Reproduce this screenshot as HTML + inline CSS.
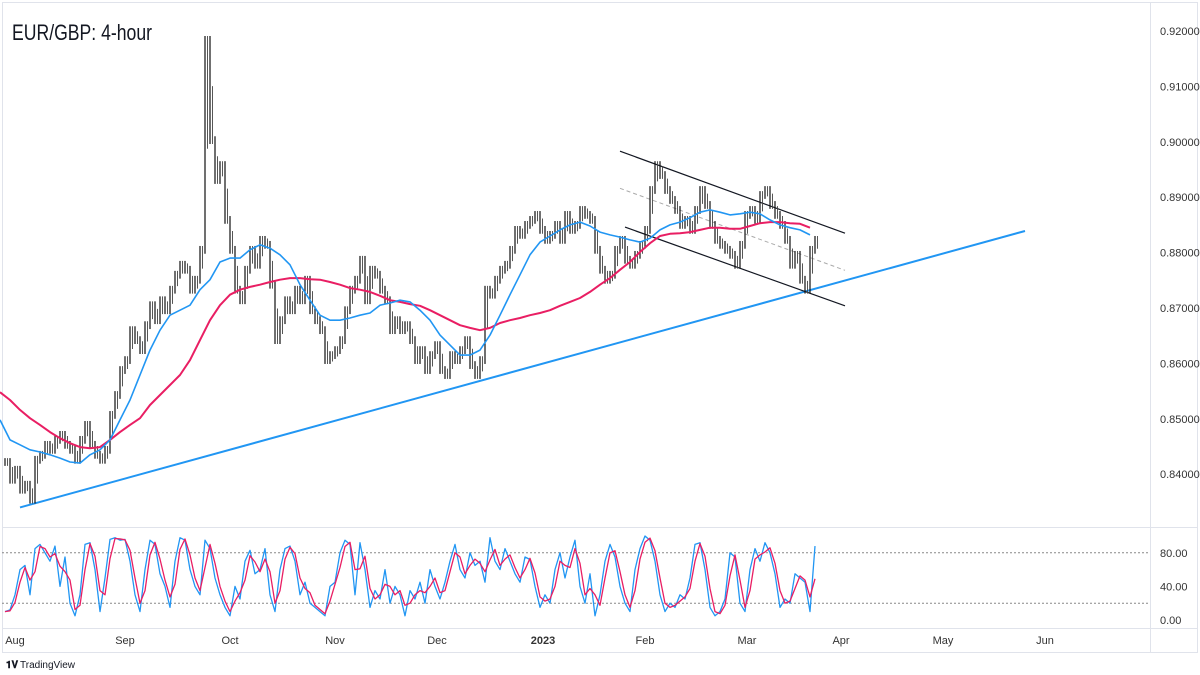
<!DOCTYPE html>
<html><head><meta charset="utf-8"><style>
html,body{margin:0;padding:0;background:#fff;}
svg{display:block;font-family:"Liberation Sans",sans-serif;}
</style></head><body>
<svg id="chart" width="1200" height="675" viewBox="0 0 1200 675" xmlns="http://www.w3.org/2000/svg">
<rect x="0" y="0" width="1200" height="675" fill="#fff"/>
<rect x="2.5" y="2.5" width="1195" height="650" fill="none" stroke="#e0e3eb"/>
<line x1="1150.5" y1="2" x2="1150.5" y2="652" stroke="#e0e3eb"/>
<line x1="2" y1="527.5" x2="1198" y2="527.5" stroke="#e0e3eb"/>
<line x1="2" y1="628.5" x2="1198" y2="628.5" stroke="#e0e3eb"/>
<text x="12" y="40" font-size="22" fill="#131722" textLength="140" lengthAdjust="spacingAndGlyphs">EUR/GBP: 4-hour</text>
<g id="priceTicks"></g>
<g id="oscTicks"></g>
<g id="timeTicks"></g>
<g id="drawings"></g>
<g id="candles"></g>
<g id="mas"></g>
<g id="osc"></g>
<text x="6" y="668" font-size="10" fill="#131722" font-weight="bold">𝟏𝐕</text>
<text x="20" y="668" font-size="10" fill="#131722">TradingView</text>
</svg>
<script>
const closes=[0.8422,0.8390,0.8408,0.8372,0.8381,0.8354,0.8426,0.8435,0.8453,0.8444,
0.8462,0.8471,0.8453,0.8444,0.8426,0.8462,0.8489,0.8453,0.8435,0.8426,
0.8444,0.8507,0.8543,0.8588,0.8606,0.8660,0.8642,0.8624,0.8669,0.8705,
0.8678,0.8714,0.8696,0.8733,0.8760,0.8778,0.8769,0.8733,0.8751,0.8805,
0.9184,
0.9003,0.8931,0.8958,0.8859,0.8805,0.8733,0.8714,0.8769,0.8805,0.8778,
0.8823,0.8814,0.8742,0.8642,0.8678,0.8714,0.8696,0.8733,0.8714,0.8751,
0.8696,0.8678,0.8660,0.8606,0.8615,0.8624,0.8642,0.8696,0.8733,0.8751,
0.8787,0.8714,0.8769,0.8760,0.8733,0.8714,0.8660,0.8678,0.8660,0.8669,
0.8642,0.8606,0.8624,0.8588,0.8615,0.8633,0.8588,0.8579,0.8615,0.8606,
0.8624,0.8642,0.8597,0.8579,0.8606,0.8733,0.8724,0.8751,0.8769,0.8778,
0.8805,0.8841,0.8832,0.8850,0.8859,0.8868,0.8841,0.8823,0.8832,0.8850,
0.8823,0.8868,0.8841,0.8850,0.8877,0.8868,0.8859,0.8805,0.8769,0.8751,
0.8760,0.8805,0.8823,0.8787,0.8778,0.8796,0.8814,0.8841,0.8913,0.8958,
0.8940,0.8913,0.8895,0.8877,0.8850,0.8859,0.8841,0.8877,0.8913,0.8886,
0.8850,0.8823,0.8814,0.8805,0.8796,0.8778,0.8814,0.8868,0.8877,0.8859,
0.8904,0.8913,0.8886,0.8868,0.8850,0.8823,0.8778,0.8796,0.8751,0.8733,
0.8805,0.8823];
const maFast=[0.8498,0.8462,0.8453,0.8444,0.8440,0.8435,0.8429,0.8422,0.8420,0.8435,0.8444,0.8462,0.8498,0.8534,0.8579,0.8624,0.8660,0.8687,0.8696,0.8705,0.8733,0.8751,0.8783,0.8790,0.8790,0.8805,0.8814,0.8808,0.8796,0.8778,0.8742,0.8714,0.8687,0.8678,0.8678,0.8682,0.8687,0.8691,0.8705,0.8709,0.8714,0.8711,0.8696,0.8678,0.8651,0.8633,0.8615,0.8615,0.8624,0.8651,0.8687,0.8724,0.8760,0.8796,0.8819,0.8830,0.8841,0.8850,0.8855,0.8848,0.8837,0.8832,0.8828,0.8823,0.8819,0.8826,0.8841,0.8850,0.8855,0.8863,0.8873,0.8877,0.8873,0.8868,0.8870,0.8873,0.8870,0.8859,0.8850,0.8845,0.8841,0.8832];
const maSlow=[0.8548,0.8534,0.8516,0.8501,0.8489,0.8476,0.8465,0.8456,0.8449,0.8447,0.8449,0.8462,0.8476,0.8489,0.8501,0.8525,0.8543,0.8561,0.8579,0.8606,0.8642,0.8678,0.8705,0.8724,0.8733,0.8738,0.8742,0.8747,0.8751,0.8754,0.8754,0.8752,0.8751,0.8747,0.8742,0.8736,0.8733,0.8729,0.8722,0.8714,0.8711,0.8707,0.8704,0.8696,0.8687,0.8678,0.8669,0.8664,0.8660,0.8664,0.8673,0.8678,0.8682,0.8687,0.8691,0.8696,0.8704,0.8711,0.8718,0.8729,0.8742,0.8754,0.8769,0.8783,0.8801,0.8817,0.8830,0.8834,0.8835,0.8837,0.8841,0.8845,0.8845,0.8843,0.8843,0.8848,0.8853,0.8855,0.8855,0.8853,0.8852,0.8845];
const stochK=[10,12,30,60,65,30,85,90,80,70,88,40,75,20,5,30,90,92,60,10,50,96,98,95,96,70,30,10,60,95,90,55,40,15,70,98,95,60,40,30,95,85,50,30,15,5,40,25,70,83,55,60,85,30,10,60,85,88,70,30,45,20,15,10,5,40,45,80,95,90,30,92,60,15,35,25,60,20,40,30,5,35,25,45,20,60,40,25,45,70,90,60,50,80,65,70,45,98,70,60,85,70,55,45,75,72,40,15,30,20,60,80,50,75,95,40,20,55,5,30,70,90,75,40,20,10,60,85,100,95,70,30,10,20,15,30,25,50,90,92,60,15,5,10,25,80,75,20,10,60,85,70,92,80,55,15,25,20,55,50,45,10,88];
const priceTicks=[0.84,0.85,0.86,0.87,0.88,0.89,0.90,0.91,0.92];
const oscTicks=[0,40,80];
const oscBands=[20,80];
const monthLabels=["Aug","Sep","Oct","Nov","Dec","2023","Feb","Mar","Apr","May","Jun"];
const monthIndex=[2,24,45,66,86.4,107.6,128,148.4,167.2,187.6,208];
// trendlines: [startIndex, startPrice, endIndex, endPrice]
const supportLine=[3,0.8340,204,0.8839];
const channelUpper=[123,0.8983,168,0.8835];
const channelMid=[123,0.8916,168,0.8768];
const channelLower=[124,0.8846,168,0.8704];

const NS="http://www.w3.org/2000/svg";
const xS=i=>5+i*5;
const yP=p=>31+(0.92-p)*5540;
const yO=v=>620-v*0.84;
const WICK=0.0007;
function mk(tag,attrs,parent){const e=document.createElementNS(NS,tag);for(const k in attrs)e.setAttribute(k,attrs[k]);parent.appendChild(e);return e;}
const gP=document.getElementById('priceTicks');
priceTicks.forEach(p=>{const t=mk('text',{x:1160,y:yP(p)+4,'font-size':11,fill:'#333'},gP);
t.textContent=p.toFixed(5);

});
const gO=document.getElementById('oscTicks');
oscTicks.forEach(v=>{const t=mk('text',{x:1160,y:yO(v)+4,'font-size':11,fill:'#333'},gO);
t.textContent=v.toFixed(2);

});
oscBands.forEach(v=>{const l=mk('line',{x1:2,x2:1150,y1:yO(v),y2:yO(v),stroke:'#888','stroke-dasharray':'2,2','stroke-width':1},gO);

});
const gT=document.getElementById('timeTicks');
monthLabels.forEach((m,k)=>{const t=mk('text',{x:xS(monthIndex[k]),y:644,'font-size':11,fill:'#333','text-anchor':'middle','font-weight':m==="2023"?'bold':'normal'},gT);
t.textContent=m;

});
const gD=document.getElementById('drawings');
function tline(a,stroke,w,dash,name){const l=mk('line',{x1:xS(a[0]),y1:yP(a[1]),x2:xS(a[2]),y2:yP(a[3]),stroke:stroke,'stroke-width':w},gD);if(dash)l.setAttribute('stroke-dasharray',dash);

}
tline(supportLine,'#2196f3',2,null,'support-trendline');
tline(channelUpper,'#131722',1.2,null,'channel-upper-line');
tline(channelMid,'#aaa',1,'4,3','channel-mid-line');
tline(channelLower,'#131722',1.2,null,'channel-lower-line');
const gC=document.getElementById('candles');
closes.forEach((c,i)=>{const prev=i?closes[i-1]:c;const hi=Math.max(prev,c)+WICK,lo=Math.min(prev,c)-WICK;
const x=xS(i);
const l=mk('line',{x1:x,x2:x,y1:yP(hi),y2:yP(lo),stroke:'#111','stroke-width':1.2},gC);


const mid=(prev+c)/2;
const l2=mk('line',{x1:x+2.5,x2:x+2.5,y1:yP(Math.max(mid,c)+WICK),y2:yP(Math.min(mid,c)-WICK),stroke:'#444','stroke-width':0.9},gC);

});
const gM=document.getElementById('mas');
function poly(arr,xf,yf,stroke,w,name,parent){const pts=arr.map((v,i)=>xf(i).toFixed(1)+','+yf(v).toFixed(1)).join(' ');
const p=mk('polyline',{points:pts,fill:'none',stroke:stroke,'stroke-width':w,'stroke-linejoin':'round'},parent);

}
const xMA=i=>xS(i*2-1);
poly(maSlow,xMA,yP,'#e91e63',2,'ma-slow-line',gM);
poly(maFast,xMA,yP,'#2196f3',1.6,'ma-fast-line',gM);
const gS=document.getElementById('osc');
const stochD=stochK.map((v,i)=>{const a=stochK.slice(Math.max(0,i-1),i+1);return a.reduce((s,x)=>s+x,0)/a.length;});
poly(stochK,xS,yO,'#2196f3',1.3,'stoch-k-line',gS);
poly(stochD,xS,yO,'#e91e63',1.3,'stoch-d-line',gS);
</script>
</body></html>
